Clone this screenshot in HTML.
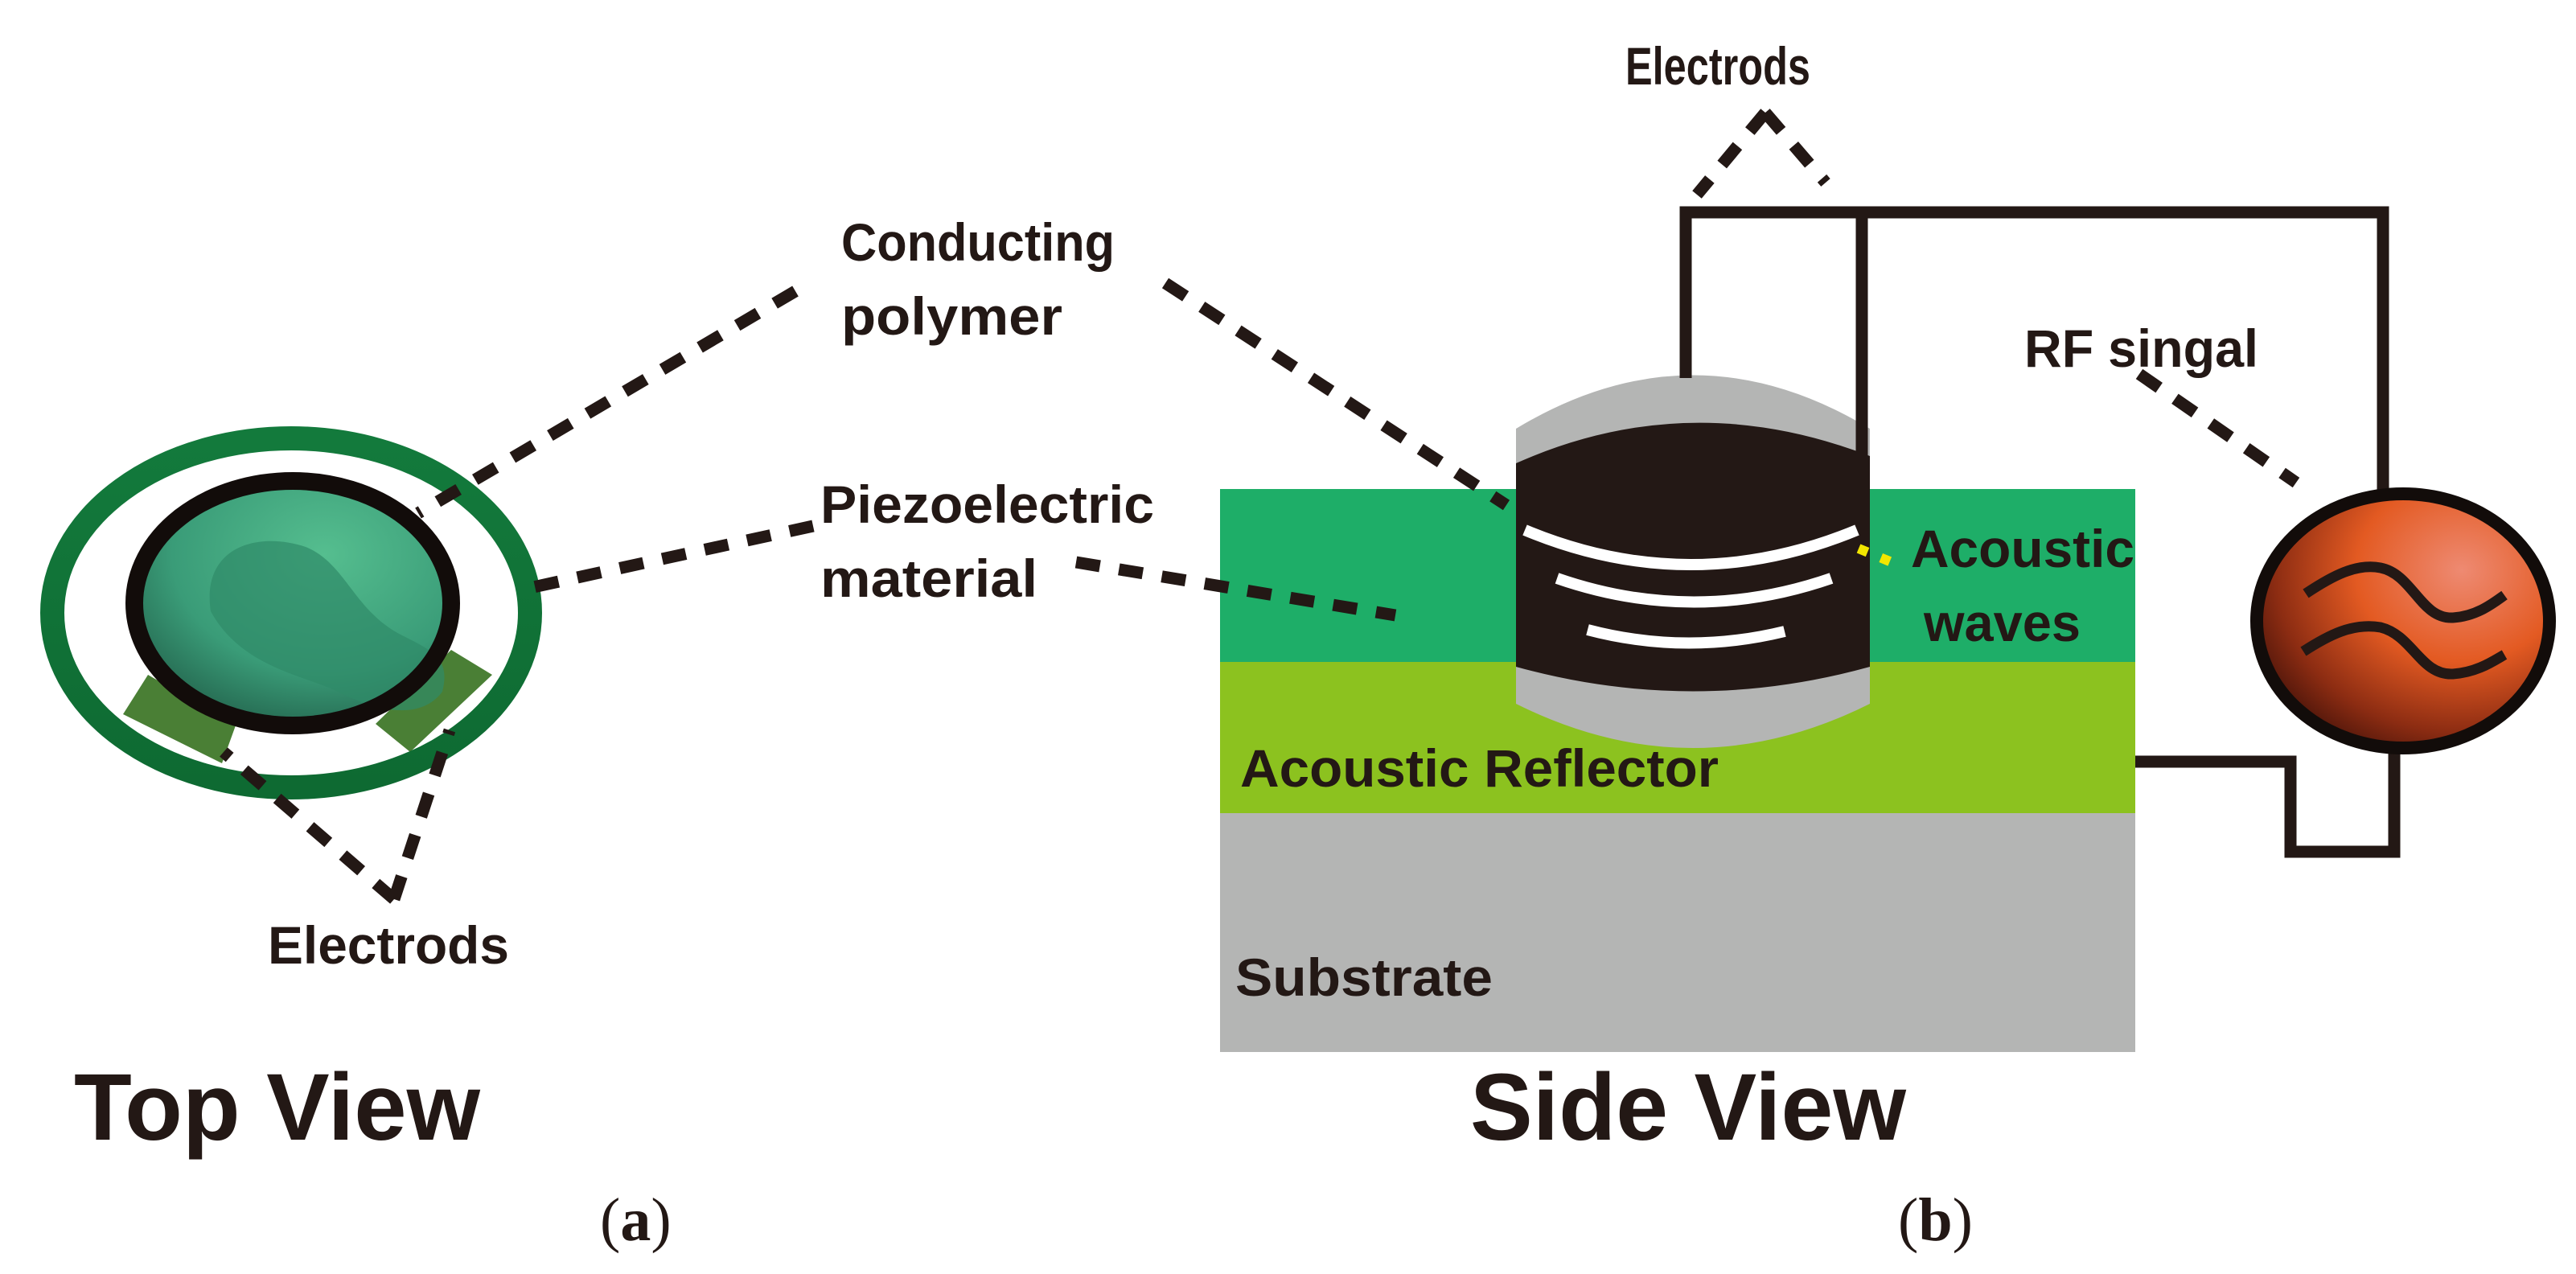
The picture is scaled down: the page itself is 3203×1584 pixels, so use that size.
<!DOCTYPE html>
<html><head><meta charset="utf-8"><style>
html,body{margin:0;padding:0;background:#fff;}
svg{display:block;}
text{font-family:"Liberation Sans",sans-serif;fill:#231815;}
</style></head><body>
<svg width="3203" height="1584" viewBox="0 0 3203 1584" xmlns="http://www.w3.org/2000/svg">
<defs>
<radialGradient id="osc" cx="0.7" cy="0.3" r="0.8">
<stop offset="0" stop-color="#ee8a72"/>
<stop offset="0.45" stop-color="#e35a22"/>
<stop offset="0.8" stop-color="#8c2c12"/>
<stop offset="1" stop-color="#4a140a"/>
</radialGradient>
<radialGradient id="teal" cx="0.6" cy="0.3" r="0.8">
<stop offset="0" stop-color="#55be8f"/>
<stop offset="0.6" stop-color="#3a9c78"/>
<stop offset="1" stop-color="#1f5a45"/>
</radialGradient>
<linearGradient id="ring" x1="0" y1="0" x2="0" y2="1">
<stop offset="0" stop-color="#137a3c"/><stop offset="1" stop-color="#0e6a32"/>
</linearGradient>
</defs>
<rect width="3203" height="1584" fill="#fff"/>

<!-- TOP VIEW -->
<polygon points="153,888 184,839 293,902 276,949" fill="#4a7f35"/>
<polygon points="467,900 561,808 612,839 510,935" fill="#4a7f35"/>
<ellipse cx="362" cy="762" rx="297" ry="217" fill="none" stroke="url(#ring)" stroke-width="30"/>
<ellipse cx="364" cy="750" rx="197" ry="152" fill="url(#teal)"/>
<path d="M262,760 C250,680 320,660 380,680 C430,700 440,760 500,790 C540,810 560,820 550,860 C520,900 460,880 420,860 C380,840 300,830 262,760 Z" fill="#2f8a68" opacity="0.7"/>
<ellipse cx="364" cy="750" rx="197" ry="152" fill="none" stroke="#120c0a" stroke-width="22"/>

<!-- SIDE VIEW layers -->
<rect x="1517" y="608" width="1138" height="216" fill="#1eae68"/>
<rect x="1517" y="823" width="1138" height="189" fill="#8cc21f"/>
<rect x="1517" y="1011" width="1138" height="297" fill="#b4b5b4"/>

<!-- device -->
<path d="M1885,533 Q2105,400 2325,533 L2325,875 Q2105,985 1885,875 Z" fill="#b4b5b4"/>
<path d="M1885,576 Q2100,480 2325,567 L2325,829 Q2105,890 1885,829 Z" fill="#231815"/>
<path d="M1896,659 Q2102,745 2309,659" fill="none" stroke="#fff" stroke-width="14"/>
<path d="M1936,719 Q2106,778 2277,719" fill="none" stroke="#fff" stroke-width="14"/>
<path d="M1974,783 Q2096,815 2219,785" fill="none" stroke="#fff" stroke-width="14"/>

<!-- wires -->
<g fill="none" stroke="#231815" stroke-width="15" stroke-linejoin="miter">
<polyline points="2096,470 2096,264 2963,264 2963,612"/>
<line x1="2315" y1="264" x2="2315" y2="570"/>
<polyline points="2655,947 2848,947 2848,1059 2977,1059 2977,930"/>
</g>

<!-- oscillator -->
<ellipse cx="2988" cy="772" rx="182" ry="158" fill="url(#osc)" stroke="#120c0a" stroke-width="16"/>
<path d="M2867,738 C2900,716 2930,700 2960,706 C3000,714 3010,770 3050,768 C3080,766 3100,750 3114,740" fill="none" stroke="#231815" stroke-width="13"/>
<path d="M2864,810 C2895,790 2925,774 2960,780 C3000,790 3010,840 3050,838 C3080,836 3100,822 3114,814" fill="none" stroke="#231815" stroke-width="13"/>

<!-- dashed leaders -->
<g fill="none" stroke="#231815" stroke-width="15" stroke-dasharray="30 24">
<line x1="989" y1="362" x2="520" y2="638"/>
<line x1="1011" y1="654" x2="663" y2="730"/>
<line x1="490" y1="1118" x2="278" y2="935"/>
<line x1="490" y1="1118" x2="559" y2="908"/>
<line x1="1449" y1="352" x2="1873" y2="628"/>
<line x1="1338" y1="699" x2="1735" y2="765"/>
<line x1="2195" y1="140" x2="2110" y2="242"/>
<line x1="2195" y1="140" x2="2270" y2="227"/>
<line x1="2660" y1="465" x2="2855" y2="600"/>
</g>
<line x1="2311" y1="682" x2="2352" y2="699" stroke="#f2e600" stroke-width="12" stroke-dasharray="12 18"/>

<!-- labels -->
<g font-size="66" font-weight="bold">
<text x="2021" y="105" textLength="230" lengthAdjust="spacingAndGlyphs">Electrods</text>
<text x="1046" y="324" textLength="340" lengthAdjust="spacingAndGlyphs">Conducting</text>
<text x="1046" y="416" textLength="275" lengthAdjust="spacingAndGlyphs">polymer</text>
<text x="1020" y="650" textLength="415" lengthAdjust="spacingAndGlyphs">Piezoelectric</text>
<text x="1020" y="742" textLength="270" lengthAdjust="spacingAndGlyphs">material</text>
<text x="2376" y="705" textLength="278" lengthAdjust="spacingAndGlyphs">Acoustic</text>
<text x="2392" y="797" textLength="195" lengthAdjust="spacingAndGlyphs">waves</text>
<text x="2517" y="456" textLength="291" lengthAdjust="spacingAndGlyphs">RF singal</text>
<text x="1542" y="978" textLength="595" lengthAdjust="spacingAndGlyphs">Acoustic Reflector</text>
<text x="1536" y="1238" textLength="320" lengthAdjust="spacingAndGlyphs">Substrate</text>
<text x="333" y="1198" textLength="300" lengthAdjust="spacingAndGlyphs">Electrods</text>
</g>
<g font-size="118" font-weight="bold">
<text x="92" y="1417" textLength="505" lengthAdjust="spacingAndGlyphs">Top View</text>
<text x="1828" y="1417" textLength="542" lengthAdjust="spacingAndGlyphs">Side View</text>
</g>
<text x="746" y="1542" font-size="76" style="font-family:'Liberation Serif',serif">(<tspan font-weight="bold">a</tspan>)</text>
<text x="2360" y="1542" font-size="76" style="font-family:'Liberation Serif',serif">(<tspan font-weight="bold">b</tspan>)</text>
</svg>
</body></html>
